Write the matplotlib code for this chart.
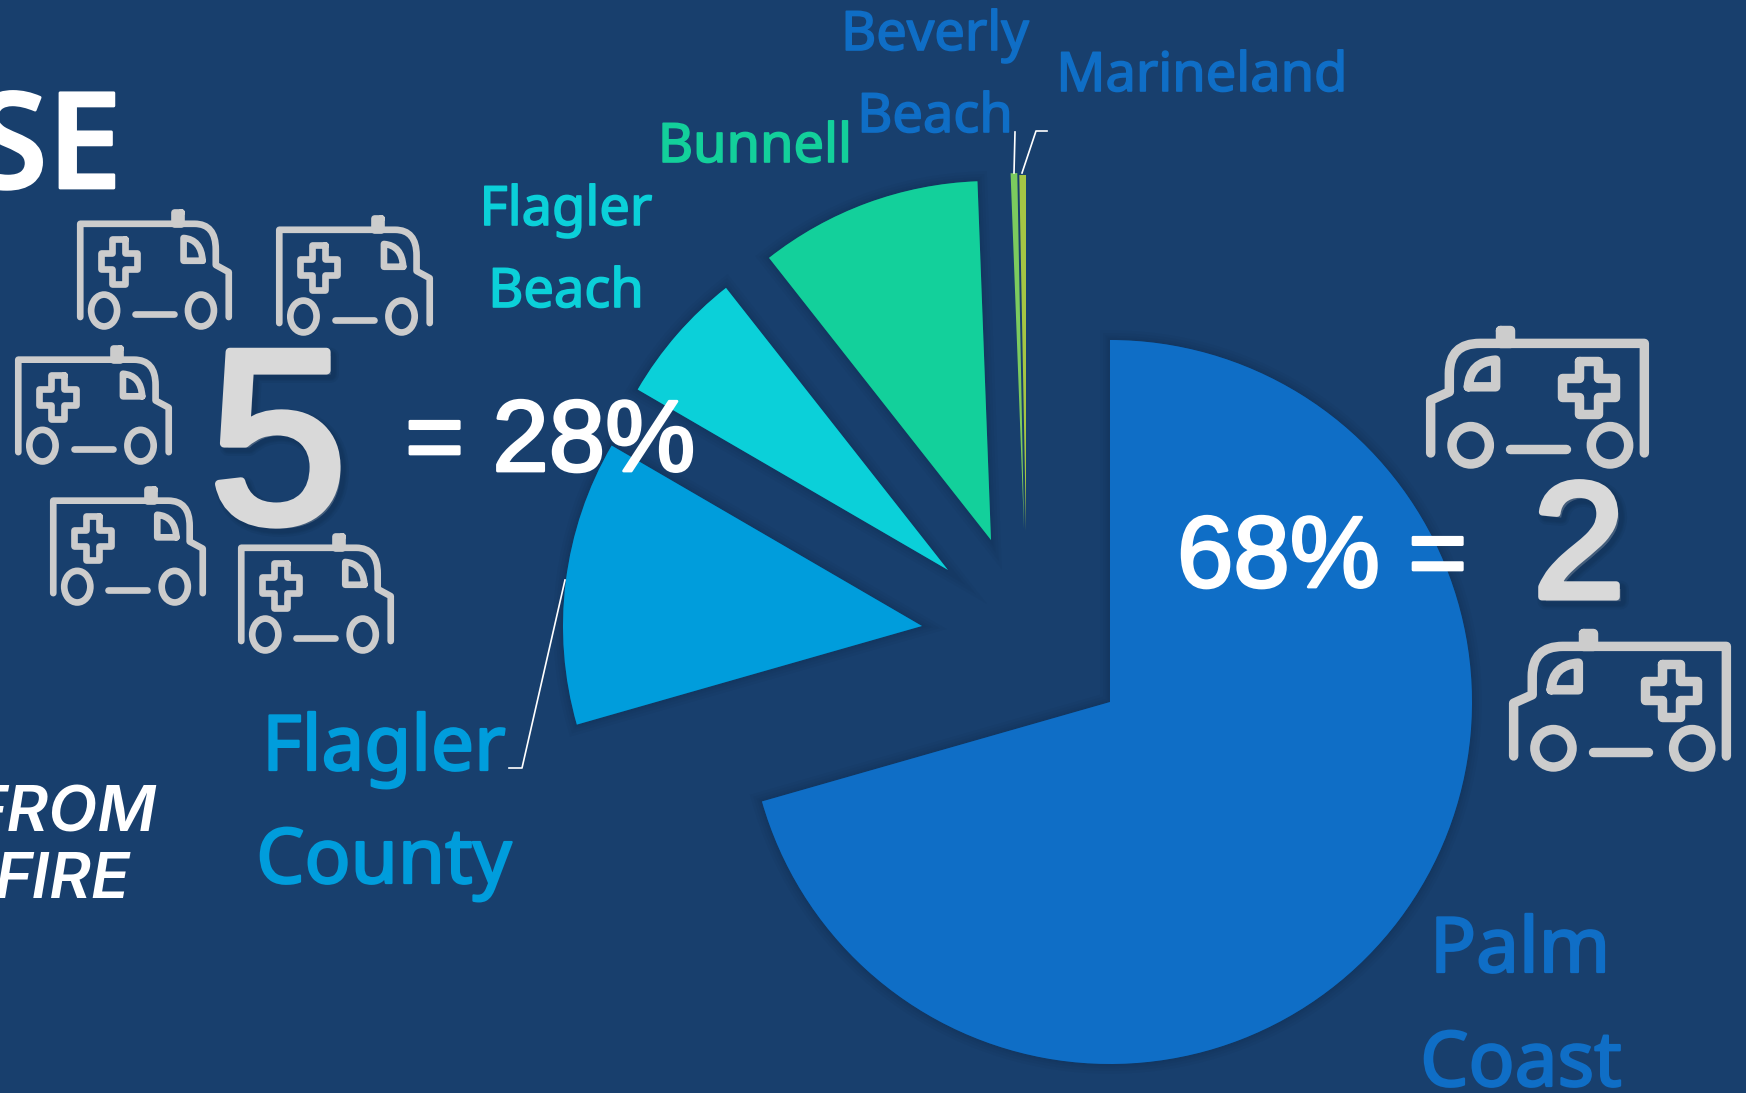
import matplotlib
matplotlib.use("Agg")
import matplotlib.pyplot as plt
import matplotlib.patheffects as pe
from matplotlib.patches import Ellipse, PathPatch
from matplotlib.path import Path

W, H = 1746, 1093
BG = "#183F6D"
GREY = "#CCCCCC"

# pie data, clockwise from 12 o'clock
regions = ["Palm Coast", "Flagler County", "Flagler Beach", "Bunnell", "Beverly Beach", "Marineland"]
shares = [70.5, 12.8, 6.0, 10.0, 0.3, 0.3]
colors = ["#0F6EC6", "#009DDC", "#0BD0D9", "#13D09B", "#7CCB5E", "#A5C544"]
# where each slice's tip sits (slices are pulled apart unevenly in the original)
tips = [(1110, 702), (922, 626), (948, 570), (991, 540), (1024, 529), (1026, 531)]
radii = [362, 359, 359, 359, 356, 356]

# (text, x centre, baseline, size, colour)
labels = [
    ("Palm", 1520, 972, 55, colors[0]),
    ("Coast", 1521, 1086, 55, colors[0]),
    ("Flagler", 384, 770, 55, colors[1]),
    ("County", 384, 883, 55, colors[1]),
    ("Flagler", 566, 225, 39, colors[2]),
    ("Beach", 566, 307, 39, colors[2]),
    ("Bunnell", 755, 162, 39, colors[3]),
    ("Beverly", 935, 50, 39, colors[0]),
    ("Beach", 935, 132, 39, colors[0]),
    ("Marineland", 1202, 91, 39, colors[0]),
]

leaders = [
    [(565, 580), (522, 768), (509, 768)],
    [(1014, 173), (1015, 132)],
    [(1022, 173), (1036, 131), (1047, 131)],
]

# x0, x1, y0, y1 of each icon
icons_left = [
    (77, 232, 209, 329),
    (276, 433, 215, 335),
    (15, 172, 345, 464),
    (50, 206, 486, 605),
    (238, 394, 533, 653),
]
icons_right = [
    (1426, 1649, 326, 467),
    (1509, 1731, 629, 770),
]


def Y(y):
    return H - y


def ambulance(ax, x0, x1, y0, y1, flip, lw):
    # icon outline in its own 78..747 x 78..500 grid
    def pt(u, v):
        fx = (u - 78) / (747 - 78)
        if flip:
            fx = 1 - fx
        return x0 + fx * (x1 - x0), Y(y0 + (v - 78) / (500 - 78) * (y1 - y0))

    def stroke(pts, codes=None, fill="none"):
        verts = [pt(*p) for p in pts]
        if codes is None:
            codes = [Path.MOVETO] + [Path.LINETO] * (len(verts) - 1)
        ax.add_patch(PathPatch(Path(verts, codes), fc=fill, ec=GREY, lw=lw,
                               capstyle="round", joinstyle="round", zorder=3))

    L, M, C = Path.LINETO, Path.MOVETO, Path.CURVE3
    stroke([(92, 458), (92, 300), (148, 275), (148, 220), (148, 130), (240, 130), (733, 130), (733, 458)],
           [M, L, L, L, C, C, L, L])
    stroke([(300, 90), (330, 90), (330, 130), (300, 130), (300, 90)], fill=GREY)
    stroke([(205, 260), (287, 260), (287, 180), (210, 185), (205, 260)], [M, L, L, C, C])
    cx, cy, a, b = 566, 262, 28, 79
    stroke([(cx - a, cy - b), (cx + a, cy - b), (cx + a, cy - a), (cx + b, cy - a), (cx + b, cy + a),
            (cx + a, cy + a), (cx + a, cy + b), (cx - a, cy + b), (cx - a, cy + a), (cx - b, cy + a),
            (cx - b, cy - a), (cx - a, cy - a), (cx - a, cy - b)])
    stroke([(330, 446), (497, 446)])
    for wx in (212, 630):
        ex, ey = pt(wx, 435)
        ax.add_patch(Ellipse((ex, ey), 112 / 669 * (x1 - x0), 112 / 422 * (y1 - y0),
                             fc="none", ec=GREY, lw=lw, zorder=3))


def thick(col, w):
    return [pe.Stroke(linewidth=w, foreground=col), pe.Normal()]


fig = plt.figure(figsize=(W / 100, H / 100), dpi=100, facecolor=BG)
ax = fig.add_axes([0, 0, 1, 1])

wedges, _ = ax.pie(shares, colors=colors, radius=362, startangle=90, counterclock=False,
                   center=(0, 0), frame=False)
soft = [pe.Stroke(linewidth=w, foreground="#0C2747", alpha=0.08) for w in (14, 10, 6, 3)]
for wedge, (tx, ty), r in zip(wedges, tips, radii):
    wedge.set_center((tx, Y(ty)))
    wedge.set_radius(r)
    wedge.set_zorder(2)
    wedge.set_linewidth(0)
for wedge in wedges[:4]:
    wedge.set_path_effects(soft + [pe.Normal()])

ax.set_xlim(0, W)
ax.set_ylim(0, H)
ax.set_aspect("auto")
ax.set_facecolor(BG)
ax.axis("off")

for pts in leaders:
    ax.plot([p[0] for p in pts], [Y(p[1]) for p in pts], color="white", lw=1.2, zorder=3)

for text, x, y, size, col in labels:
    ax.text(x, Y(y), text, color=col, fontsize=size, family="Noto Sans",
            ha="center", va="baseline", zorder=4, path_effects=thick(col, 0.03 * size))

for box in icons_left:
    ambulance(ax, *box, True, 4.8)
for box in icons_right:
    ambulance(ax, *box, False, 6.8)

ax.text(122, Y(188), "SE", color="white", fontsize=96, family="Open Sans", weight="semibold",
        ha="right", va="baseline", zorder=4, path_effects=thick("white", 2))
ax.text(156, Y(832), "FROM", color="white", fontsize=46, family="Inter", style="italic",
        weight="semibold", ha="right", va="baseline", zorder=4)
ax.text(130, Y(898), "FIRE", color="white", fontsize=46, family="Inter", style="italic",
        weight="semibold", ha="right", va="baseline", zorder=4)

shadow = [pe.Stroke(linewidth=w, foreground="#0C2747", alpha=0.12, offset=(3, -3)) for w in (12, 9, 7)]
ax.text(278, Y(522), "5", color="#D9D9D9", fontsize=178, family="Liberation Sans",
        ha="center", va="baseline", zorder=4,
        path_effects=shadow + thick("#D9D9D9", 6))
ax.text(1579, Y(597), "2", color="#D9D9D9", fontsize=118, family="Liberation Sans",
        ha="center", va="baseline", zorder=4,
        path_effects=shadow + thick("#D9D9D9", 5))
ax.text(405, Y(471), "= 28%", color="white", fontsize=73, family="Liberation Sans",
        ha="left", va="baseline", zorder=5, path_effects=thick("white", 2))
ax.text(1177, Y(587), "68% =", color="white", fontsize=73, family="Liberation Sans",
        ha="left", va="baseline", zorder=5, path_effects=thick("white", 2))

fig.savefig("out.png", dpi=100, facecolor=BG)
